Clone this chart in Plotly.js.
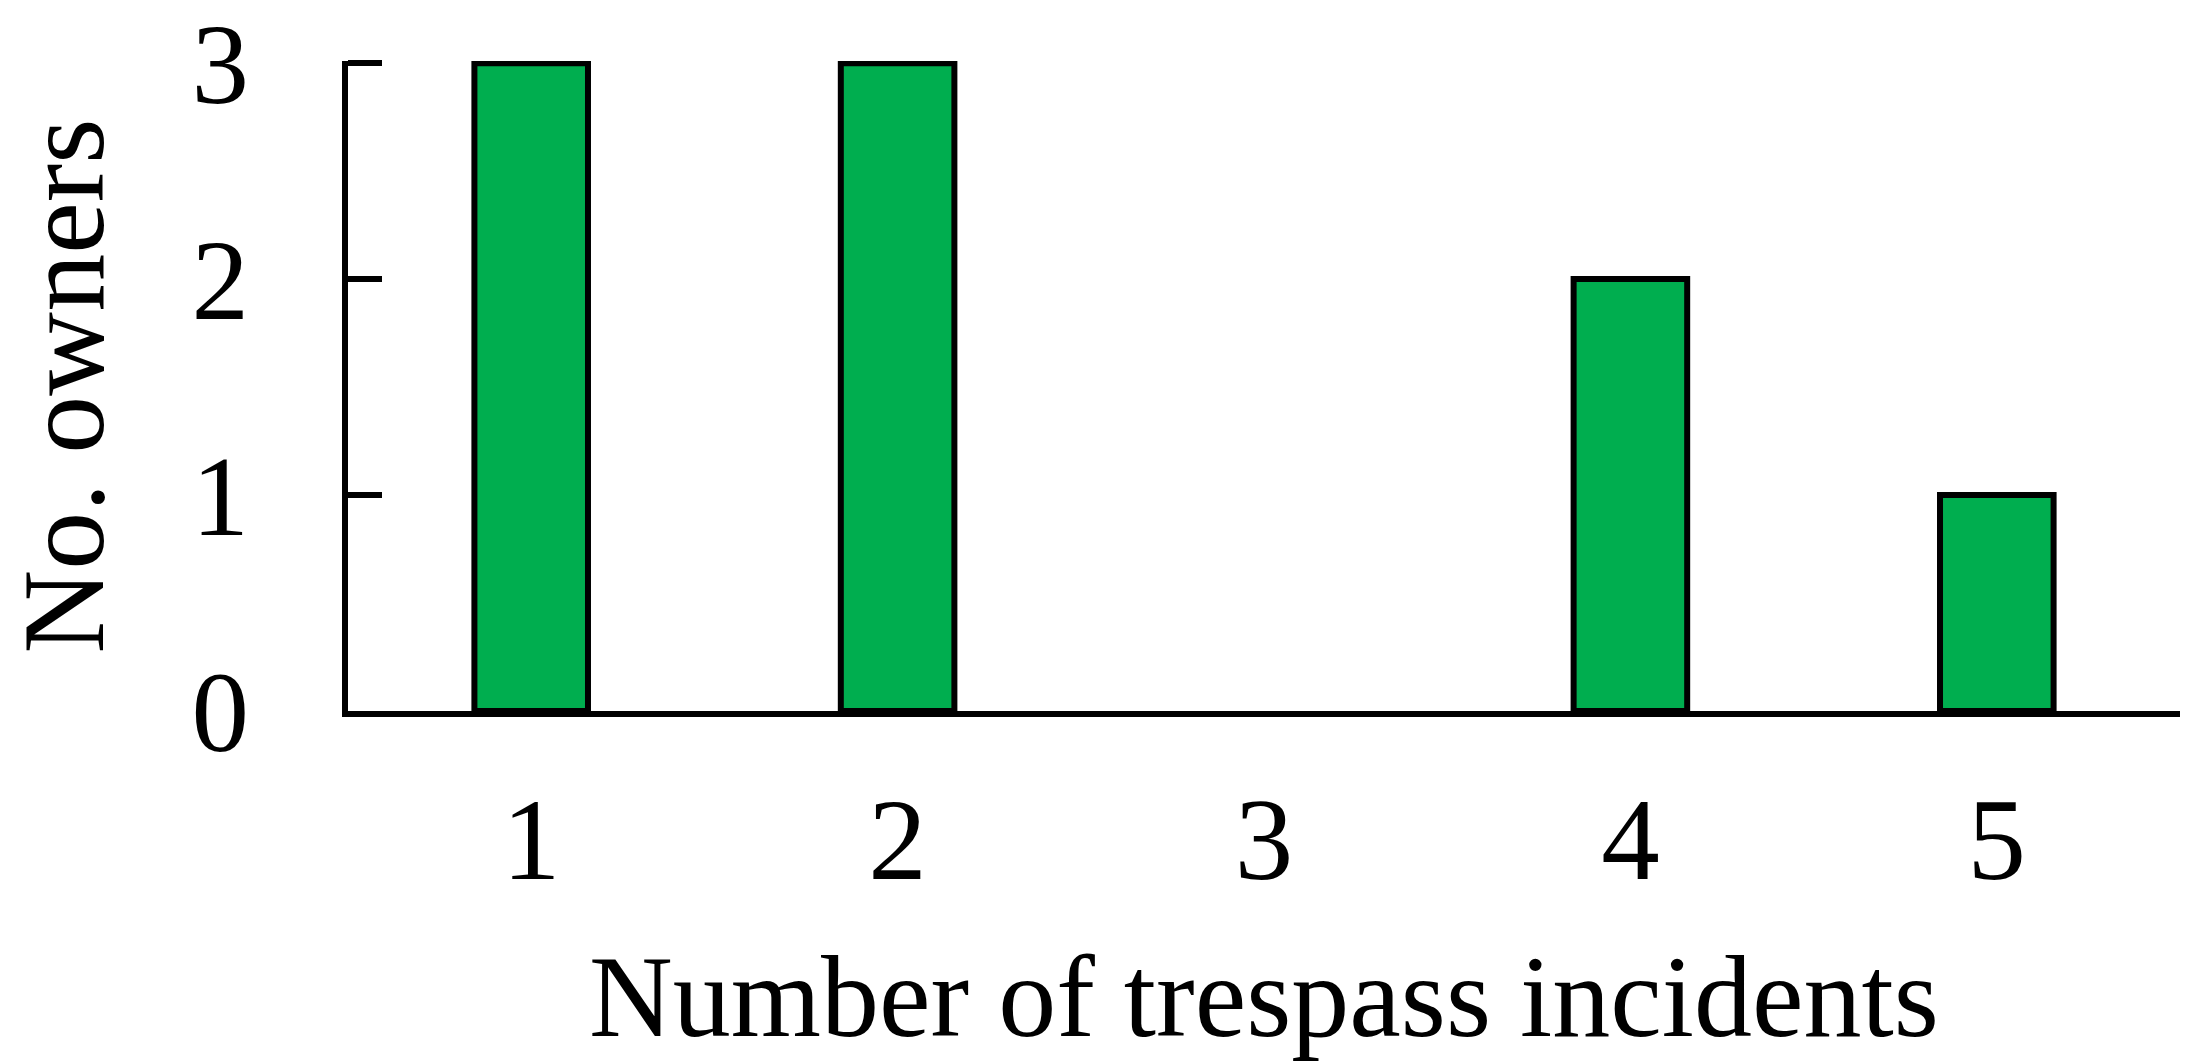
<!DOCTYPE html>
<html>
<head>
<meta charset="utf-8">
<script src="https://cdn.plot.ly/plotly-3.0.1.min.js"></script>
<style>html,body{margin:0;padding:0;background:#fff;}#chart{width:2188px;height:1061px;}</style>
</head>
<body>
<div id="chart"></div>
<script>
const incidents = [1, 2, 3, 4, 5];
const owners = [3, 3, 0, 2, 1];
const yTicks = [0, 1, 2, 3];
const xTitle = "Number of trespass incidents";
const yTitle = "No. owners";

const FONT = "Liberation Serif, Times New Roman, serif";

const trace = {
  type: "bar",
  x: incidents,
  y: owners,
  width: 0.31,
  marker: {
    color: "#00AE4F",
    line: { color: "#000000", width: owners.map(v => (v === 0 ? 0 : 6)) }
  },
  hoverinfo: "x+y"
};

const layout = {
  width: 2188,
  height: 1061,
  margin: { l: 348, r: 8, t: 61, b: 350, pad: 0 },
  paper_bgcolor: "#ffffff",
  plot_bgcolor: "#ffffff",
  showlegend: false,
  font: { family: FONT, size: 117, color: "#000000" },
  xaxis: {
    range: [0.5, 5.5],
    tickvals: incidents,
    ticktext: incidents.map(String),
    ticks: "",
    showgrid: false,
    zeroline: false,
    showline: true,
    linecolor: "#000000",
    linewidth: 6,
    ticklabelstandoff: 22,
    ticklabeloverflow: "allow",
    tickfont: { family: FONT, size: 117, color: "#000000" },
    title: { text: xTitle, font: { family: FONT, size: 116, color: "#000000" }, standoff: 76 }
  },
  yaxis: {
    range: [0, 3.01],
    tickvals: yTicks,
    ticktext: yTicks.map(String),
    ticks: "inside",
    ticklen: 34,
    tickwidth: 6,
    tickcolor: "#000000",
    showgrid: false,
    zeroline: false,
    showline: true,
    linecolor: "#000000",
    linewidth: 6,
    ticklabelstandoff: 70,
    ticklabeloverflow: "allow",
    tickfont: { family: FONT, size: 115, color: "#000000" },
    title: { text: yTitle, font: { family: FONT, size: 116, color: "#000000" }, standoff: 71 }
  }
};

Plotly.newPlot("chart", [trace], layout, { staticPlot: true, displayModeBar: false });
</script>
</body>
</html>
